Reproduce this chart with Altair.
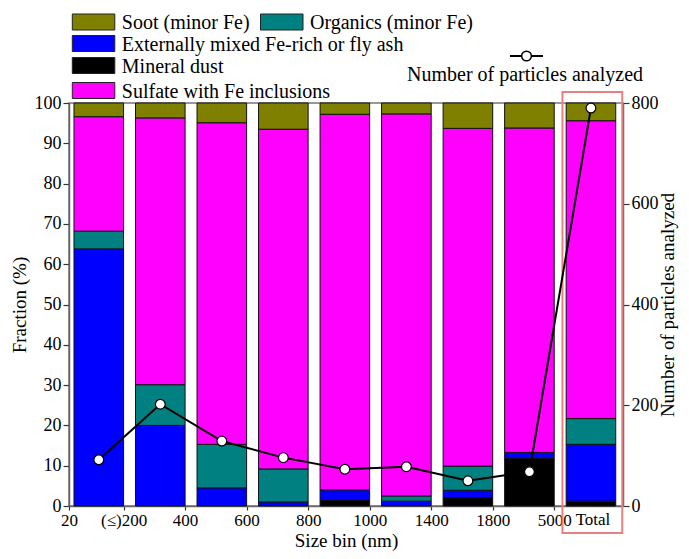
import altair as alt
import pandas as pd

# ---- data ----
tick_labels = ["20", "(≤)200", "400", "600", "800", "1000", "1400", "1800", "5000"]
bars = ["20-200", "200-400", "400-600", "600-800", "800-1000", "1000-1400",
        "1400-1800", "1800-5000", "Total"]
# stacking order bottom -> top
categories = ["Mineral dust", "Externally mixed Fe-rich or fly ash",
              "Organics (minor Fe)", "Sulfate with Fe inclusions", "Soot (minor Fe)"]
colors = ["#000000", "#0000FF", "#008080", "#FF00FF", "#808000"]

mineral = [0, 0, 0, 0, 1.4, 0, 2.1, 11.8, 1.2]
external = [63.8, 20.0, 4.5, 1.0, 2.6, 1.2, 1.8, 1.5, 14.1]
organics = [4.4, 10.1, 10.8, 8.2, 0, 1.3, 6.0, 0, 6.4]
sulfate = [28.4, 66.2, 79.8, 84.3, 93.2, 94.8, 83.8, 80.5, 73.9]
soot = [3.4, 3.7, 4.9, 6.5, 2.8, 2.7, 6.3, 6.2, 4.4]
counts = [92, 202, 129, 96, 73, 78, 50, 68, 790]

series = [mineral, external, organics, sulfate, soot]

# ---- build tables ----
rows = []
for i, b in enumerate(bars):
    base = 0.0
    for cat, vals in zip(categories, series):
        v = vals[i]
        if v > 0:
            rows.append({"bin": b, "cat": cat, "x0": i + 0.194, "x1": i + 1.0,
                         "y0": base, "y1": base + v})
        base += v
seg = pd.DataFrame(rows)
line_df = pd.DataFrame({"bin": bars, "xc": [i + 0.597 for i in range(len(bars))],
                        "count": counts})

W, H = 554, 403
FONT = "'Liberation Serif', 'Times New Roman', Times, 'DejaVu Serif', serif"
LFS, XFS, TFS = 18, 17, 19

xdom = [0.113, 9.118]
tick_vals = [0.113] + list(range(1, 9))
lab_arr = "[" + ",".join("'" + t + "'" for t in tick_labels) + "]"
x_axis = alt.Axis(values=tick_vals, title="Size bin (nm)",
                  labelExpr="datum.value < 0.5 ? '20' : " + lab_arr + "[datum.value]",
                  tickSize=4, labelPadding=2, titlePadding=3, labelFlush=False,
                  labelOverlap=False, labelFontSize=XFS)
xscale = alt.Scale(domain=xdom, nice=False, zero=False)

bar_layer = alt.Chart(seg).mark_rect(stroke="#111111", strokeWidth=1).encode(
    x=alt.X("x0:Q", scale=xscale, axis=x_axis),
    x2="x1:Q",
    y=alt.Y("y0:Q", scale=alt.Scale(domain=[0, 100], nice=False),
            axis=alt.Axis(values=list(range(0, 101, 10)), title="Fraction (%)",
                          tickSize=6, labelPadding=2, titlePadding=5)),
    y2="y1:Q",
    color=alt.Color("cat:N", scale=alt.Scale(domain=categories, range=colors), legend=None),
)

total_df = pd.DataFrame({"xc": [8.63], "t": ["Total"]})
total_text = alt.Chart(total_df).mark_text(font=FONT, fontSize=XFS, baseline="top",
                                           align="center", color="black").encode(
    x=alt.X("xc:Q", scale=xscale, axis=x_axis),
    y=alt.value(H + 6),
    text="t:N",
)

box_df = pd.DataFrame({"a": [8.134], "b": [9.106]})
red_box = alt.Chart(box_df).mark_rect(fill=None, stroke="#E88080", strokeWidth=2).encode(
    x=alt.X("a:Q", scale=xscale, axis=x_axis),
    x2="b:Q",
    y=alt.value(-11),
    y2=alt.value(430),
)

count_axis = alt.Axis(orient="right", values=[0, 200, 400, 600, 800],
                      title="Number of particles analyzed", titleAngle=270,
                      titleBaseline="top", tickSize=6, labelPadding=2, titlePadding=0)
cy = alt.Y("count:Q", scale=alt.Scale(domain=[0, 800], nice=False), axis=count_axis)
line = alt.Chart(line_df).mark_line(color="black", strokeWidth=2).encode(
    x=alt.X("xc:Q", scale=xscale, axis=x_axis), y=cy)
pts = alt.Chart(line_df).mark_point(shape="circle", filled=True, fill="white",
                                    stroke="black", strokeWidth=1.2, size=95,
                                    opacity=1).encode(
    x=alt.X("xc:Q", scale=xscale, axis=x_axis), y=cy)
count_layer = alt.layer(line, pts)

# ---- custom legend (pixel offsets relative to the plot area) ----
one = pd.DataFrame({"k": [0]})
leg_items = [
    ("Soot (minor Fe)", "#808000", 3.3, -81),
    ("Organics (minor Fe)", "#008080", 191.5, -81),
    ("Externally mixed Fe-rich or fly ash", "#0000FF", 3.3, -59.5),
    ("Mineral dust", "#000000", 3.3, -37.5),
    ("Sulfate with Fe inclusions", "#FF00FF", 3.3, -12.5),
]
legend_layers = []
for lab, col, lx, ly in leg_items:
    legend_layers.append(
        alt.Chart(one).mark_rect(fill=col, stroke="#222222", strokeWidth=1).encode(
            x=alt.value(lx), x2=alt.value(lx + 42.5),
            y=alt.value(ly - 8), y2=alt.value(ly + 8)))
    legend_layers.append(
        alt.Chart(one).mark_text(text=lab, font=FONT, fontSize=20, align="left",
                                 baseline="middle", color="black").encode(
            x=alt.value(lx + 49.5), y=alt.value(ly + 1)))

legend_layers.append(
    alt.Chart(one).mark_rule(color="black", strokeWidth=2).encode(
        x=alt.value(441), x2=alt.value(474), y=alt.value(-47)))
legend_layers.append(
    alt.Chart(one).mark_point(shape="circle", filled=True, fill="white", stroke="black",
                              strokeWidth=1.5, size=95, opacity=1).encode(
        x=alt.value(457.5), y=alt.value(-47)))
legend_layers.append(
    alt.Chart(one).mark_text(text="Number of particles analyzed", font=FONT, fontSize=20,
                             align="center", baseline="middle", color="black").encode(
        x=alt.value(456), y=alt.value(-28)))

chart = alt.layer(bar_layer, total_text, red_box, count_layer, *legend_layers).resolve_scale(
    y="independent"
).properties(
    width=W, height=H,
    autosize=alt.AutoSizeParams(type="none"),
    padding={"left": 61, "top": 95, "right": 58, "bottom": 45},
).configure(font=FONT).configure_view(
    stroke="#777777", strokeWidth=1.5
).configure_axis(
    labelFont=FONT, titleFont=FONT, labelFontSize=LFS, titleFontSize=TFS,
    labelColor="black", titleColor="black", titleFontWeight="normal",
    domainColor="#666666", domainWidth=1.5, tickColor="#333333", tickWidth=1.2,
    grid=False,
)

chart.save("out.html", embed_options={"renderer": "svg", "actions": False})
